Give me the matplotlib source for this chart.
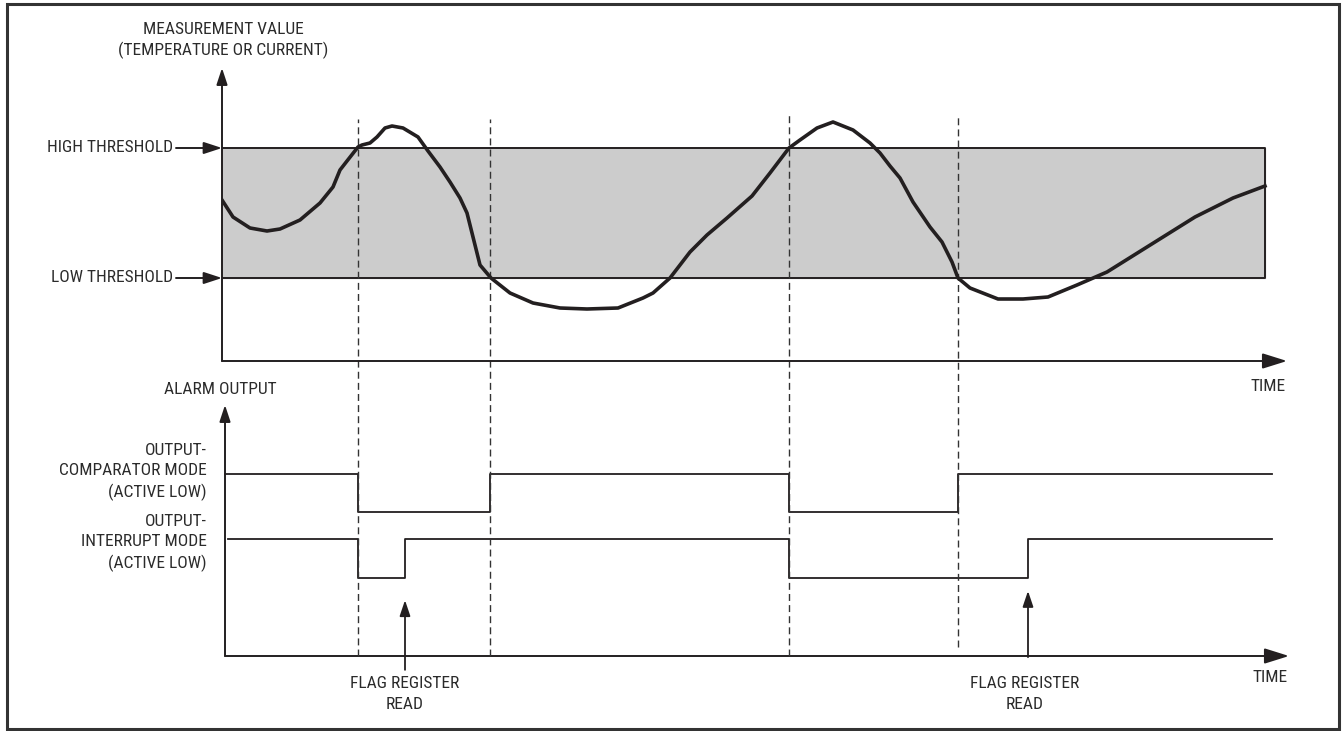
import matplotlib.pyplot as plt
import matplotlib.font_manager as fm
from matplotlib.patches import Rectangle

# Данные: измеряемая величина во времени
time = [0, 11, 28, 45, 58, 78, 98, 111, 118, 125, 136, 140, 148, 155, 163, 170, 181,
        196, 206, 218, 228, 238, 245, 251, 258, 269, 288, 311, 338, 365, 396, 421,
        431, 448, 468, 485, 505, 530, 548, 567, 578, 595, 611, 631, 648, 658, 668,
        678, 691, 708, 720, 730, 736, 748, 776, 801, 826, 855, 885, 925, 973, 1011, 1043]
value = [16.1, 14.4, 13.3, 13.0, 13.2, 14.1, 15.8, 17.4, 19.1, 20.0, 21.4, 21.6, 21.8,
         22.4, 23.3, 23.5, 23.3, 22.4, 21.0, 19.4, 17.9, 16.3, 14.8, 12.4, 9.6, 8.3,
         6.8, 5.8, 5.3, 5.2, 5.3, 6.3, 6.8, 8.3, 10.9, 12.6, 14.3, 16.5, 18.8, 21.3,
         22.1, 23.3, 23.9, 23.1, 21.8, 20.8, 19.5, 18.3, 15.9, 13.4, 11.9, 9.9, 8.3,
         7.3, 6.2, 6.2, 6.4, 7.6, 8.9, 11.4, 14.4, 16.3, 17.5]
low_threshold = 8.3
high_threshold = 21.3

# Моменты пересечения порогов и чтения флага
crossings = [136, 268, 567, 736]
flag_reads = [183, 806]

# Логические выходы (1 = высокий уровень)
comp_t = [3, 136, 268, 567, 736, 1050]
comp_state = [1, 0, 1, 0, 1, 1]
int_t = [6, 136, 183, 567, 806, 1050]
int_state = [1, 0, 1, 0, 1, 1]

ink = '#231f20'
txt = '#2b2b2b'

# Ищем узкий шрифт
font_family = None
font_stretch = 'normal'
font_size = 12.5
names = {f.name for f in fm.fontManager.ttflist}
for cand in ['Liberation Sans Narrow', 'Roboto Condensed', 'Noto Sans Condensed',
             'Open Sans Condensed', 'DejaVu Sans Condensed', 'Lato Condensed']:
    if cand in names:
        font_family = cand
        break
if font_family is None:
    narrow = [f for f in fm.fontManager.ttflist
              if str(f.stretch) in ('condensed', 'semi-condensed')
              and str(f.weight) in ('normal', 'regular', '400') and f.style == 'normal']
    if narrow:
        font_family = narrow[0].name
        font_stretch = narrow[0].stretch
if font_family is None:
    font_family = 'Liberation Sans'
    font_size = 10.5

plt.rcParams['font.family'] = [font_family, 'DejaVu Sans']
plt.rcParams['font.stretch'] = font_stretch
plt.rcParams['font.size'] = font_size

fig = plt.figure(figsize=(13.43, 7.31), dpi=100)

# Верхний график
ax = fig.add_axes([222 / 1343, 1 - 361 / 731, 1065 / 1343, 293 / 731])
ax.set_xlim(0, 1065)
ax.set_ylim(0, 29.3)
ax.axis('off')
ax.set_zorder(2)

ax.fill_between([0, 1043], low_threshold, high_threshold, color='#cccccc', zorder=1)
ax.plot([0, 1043, 1043, 0], [high_threshold, high_threshold, low_threshold, low_threshold],
        color=ink, lw=1.4, zorder=2)

tops = [24.2, 24.2, 24.8, 24.6]
bottoms = [-29.5, -29.5, -29.5, -28.6]
for t, y1, y0 in zip(crossings, tops, bottoms):
    ax.plot([t, t], [y0, y1], color='#333333', lw=1.0, dashes=(5, 3), clip_on=False, zorder=3)

ax.plot(time, value, color=ink, lw=2.6, solid_joinstyle='round', zorder=4)

ax.annotate('', xy=(0, 29.3), xytext=(0, 0),
            arrowprops=dict(arrowstyle='-|>,head_length=1.0,head_width=0.33', mutation_scale=10,
                            lw=1.4, color=ink, shrinkA=0, shrinkB=0))
ax.annotate('', xy=(1065, 0), xytext=(0, 0),
            arrowprops=dict(arrowstyle='-|>,head_length=1.5,head_width=0.47', mutation_scale=10,
                            lw=1.4, color=ink, shrinkA=0, shrinkB=0))
for lvl, lab in [(high_threshold, 'HIGH THRESHOLD'), (low_threshold, 'LOW THRESHOLD')]:
    ax.annotate('', xy=(0, lvl), xytext=(-46, lvl), annotation_clip=False,
                arrowprops=dict(arrowstyle='-|>,head_length=1.1,head_width=0.36', mutation_scale=10,
                                lw=1.4, color=ink, shrinkA=0, shrinkB=0))
    ax.text(-49, lvl, lab, ha='right', va='center', color=txt, clip_on=False)

ax.text(1, 32.05, 'MEASUREMENT VALUE\n(TEMPERATURE OR CURRENT)', ha='center', va='center',
        linespacing=1.40, color=txt, clip_on=False)
ax.text(1046, -2.6, 'TIME', ha='center', va='center', color=txt, clip_on=False)

# Нижний график
ax2 = fig.add_axes([222 / 1343, 1 - 656 / 731, 1065 / 1343, 251 / 731])
ax2.set_xlim(0, 1065)
ax2.set_ylim(0, 6.52)
ax2.axis('off')

comp_offset = 3.74
int_offset = 2.03
ax2.step(comp_t, [s * 0.99 + comp_offset for s in comp_state], where='post', color=ink, lw=1.3)
ax2.step(int_t, [s * 1.0 + int_offset for s in int_state], where='post', color=ink, lw=1.3)

ax2.annotate('', xy=(3, 6.52), xytext=(3, 0),
             arrowprops=dict(arrowstyle='-|>,head_length=1.0,head_width=0.33', mutation_scale=10,
                             lw=1.4, color=ink, shrinkA=0, shrinkB=0))
ax2.annotate('', xy=(1067, 0), xytext=(3, 0), annotation_clip=False,
             arrowprops=dict(arrowstyle='-|>,head_length=1.5,head_width=0.47', mutation_scale=10,
                             lw=1.4, color=ink, shrinkA=0, shrinkB=0))

arrow_tips = [1.45, 1.69]
arrow_tails = [-0.36, -0.03]
label_x = [183, 803]
for t, y1, y0, lx in zip(flag_reads, arrow_tips, arrow_tails, label_x):
    ax2.annotate('', xy=(t, y1), xytext=(t, y0), annotation_clip=False,
                 arrowprops=dict(arrowstyle='-|>,head_length=0.95,head_width=0.32', mutation_scale=10,
                                 lw=1.3, color=ink, shrinkA=0, shrinkB=0))
    ax2.text(lx, -0.99, 'FLAG REGISTER\nREAD', ha='center', va='center', linespacing=1.45,
             color=txt, clip_on=False)

ax2.text(-2, 6.91, 'ALARM OUTPUT', ha='center', va='center', color=txt, clip_on=False)
ax2.text(-15, 4.79, 'OUTPUT-\nCOMPARATOR MODE\n(ACTIVE LOW)', ha='right', va='center',
         linespacing=1.43, color=txt, clip_on=False)
ax2.text(-15, 2.94, 'OUTPUT-\nINTERRUPT MODE\n(ACTIVE LOW)', ha='right', va='center',
         linespacing=1.43, color=txt, clip_on=False)
ax2.text(1048, -0.55, 'TIME', ha='center', va='center', color=txt, clip_on=False)

# Рамка
fig.patches.append(Rectangle((7 / 1343, 2 / 731), 1332 / 1343, 725 / 731, transform=fig.transFigure,
                             fill=False, lw=2.2, ec='#333333'))

plt.savefig('out.png', dpi=100)
